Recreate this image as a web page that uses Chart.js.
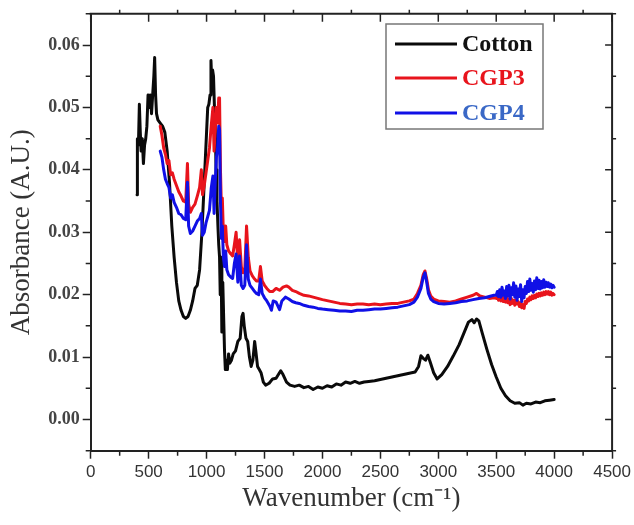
<!DOCTYPE html>
<html>
<head>
<meta charset="utf-8">
<script src="https://cdn.jsdelivr.net/npm/chart.js@4"></script>
<style>
html, body { margin: 0; padding: 0; background: #fff; }
</style>
</head>
<body>
<canvas id="ftirChart" width="634" height="525"></canvas>
<script>
// tick labels
const xTicks = [0, 500, 1000, 1500, 2000, 2500, 3000, 3500, 4000, 4500];
const yTicks = [0, 0.01, 0.02, 0.03, 0.04, 0.05, 0.06];

const seriesNames = ['Cotton', 'CGP3', 'CGP4'];

// Cotton (black)
const cottonX = [400, 403, 412, 420, 428, 435, 445, 455, 465, 475, 485, 495, 505, 515, 525, 535, 545, 552, 560, 568, 580,
  600, 620, 640, 660, 680, 700, 720, 740, 760, 780, 800, 820, 840, 860, 880, 900, 920, 940, 960, 980,
  1000, 1010, 1020, 1030, 1038, 1045, 1052, 1060, 1068, 1075, 1082, 1090, 1098, 1105, 1112, 1118, 1125, 1132, 1140, 1148,
  1155, 1162, 1170, 1180, 1190, 1200, 1215, 1230, 1250, 1270, 1290, 1305, 1315, 1325, 1340, 1355, 1370, 1385, 1400,
  1415, 1425, 1440, 1455, 1470, 1490, 1510, 1540, 1570, 1600, 1620, 1640, 1660, 1690, 1720, 1760, 1800, 1840, 1880,
  1920, 1960, 2000, 2040, 2080, 2120, 2160, 2200, 2240, 2280, 2320, 2360, 2400, 2450, 2500, 2550, 2600, 2650, 2700,
  2750, 2800, 2830, 2850, 2870, 2890, 2910, 2930, 2960, 2990, 3030, 3080, 3130, 3180, 3220, 3260, 3290, 3310, 3330,
  3350, 3380, 3420, 3460, 3500, 3540, 3580, 3620, 3660, 3700, 3730, 3760, 3800, 3840, 3880, 3920, 3960, 4000];
const cottonY = [0.036, 0.045, 0.044, 0.0505, 0.046, 0.043, 0.045, 0.041, 0.044, 0.045, 0.047, 0.052, 0.050, 0.052, 0.049, 0.052, 0.055, 0.058, 0.052, 0.049, 0.048,
  0.0475, 0.047, 0.046, 0.043, 0.038, 0.031, 0.026, 0.022, 0.019, 0.0175, 0.0165, 0.0162, 0.0165, 0.0175, 0.019, 0.021, 0.0215, 0.024, 0.030, 0.038,
  0.046, 0.050, 0.0505, 0.052, 0.0575, 0.054, 0.056, 0.055, 0.050, 0.047, 0.040, 0.035, 0.031, 0.028, 0.026, 0.020, 0.026, 0.014, 0.022, 0.016,
  0.011, 0.008, 0.0095, 0.008, 0.0105, 0.009, 0.0095, 0.0105, 0.011, 0.0125, 0.013, 0.0165, 0.017, 0.015, 0.013, 0.0125, 0.010, 0.0085, 0.0095,
  0.0125, 0.011, 0.0085, 0.008, 0.0075, 0.006, 0.0055, 0.0058, 0.0065, 0.0066, 0.0072, 0.0078, 0.0072, 0.006, 0.0055, 0.0053, 0.0055, 0.0051, 0.0053,
  0.0048, 0.0052, 0.0050, 0.0054, 0.0052, 0.0057, 0.0055, 0.0060, 0.0058, 0.0061, 0.0058, 0.0060, 0.0061, 0.0062, 0.0064, 0.0066, 0.0068, 0.0070, 0.0072,
  0.0074, 0.0076, 0.0085, 0.0102, 0.0098, 0.0095, 0.0103, 0.0092, 0.0075, 0.0065, 0.0072, 0.0085, 0.0102, 0.012, 0.0138, 0.0156, 0.0160, 0.0155, 0.0161,
  0.0158, 0.0138, 0.0112, 0.0088, 0.0068, 0.0050, 0.0038, 0.0030, 0.0026, 0.0027, 0.0023, 0.0026, 0.0025, 0.0028, 0.0027, 0.0030, 0.0031, 0.0032];

// CGP3 (red)
const cgp3X = [600, 615, 630, 645, 660, 675, 690, 705, 720, 740, 760, 780, 800, 820, 835, 845, 860, 880, 900, 920, 940, 955, 965, 980, 995,
  1010, 1025, 1040, 1055, 1065, 1075, 1085, 1095, 1105, 1112, 1120, 1128, 1136, 1145, 1155, 1165, 1175, 1190, 1210, 1225, 1240, 1255,
  1270, 1285, 1300, 1315, 1330, 1345, 1360, 1375, 1395, 1415, 1430, 1450, 1465, 1480, 1500, 1520, 1545, 1570, 1600, 1630, 1660, 1690,
  1710, 1740, 1770, 1800, 1840, 1880, 1920, 1960, 2000, 2050, 2100, 2150, 2200, 2250, 2300, 2350, 2400, 2450, 2500, 2550, 2600, 2650,
  2700, 2750, 2790, 2820, 2850, 2870, 2885, 2900, 2915, 2935, 2960, 3000, 3050, 3100, 3150, 3200, 3250, 3300, 3330, 3360, 3400, 3440,
  3480, 3500, 3510, 3520, 3530, 3540, 3550, 3560, 3570, 3580, 3590, 3600, 3610, 3620, 3630, 3640, 3650, 3660, 3670, 3680, 3690,
  3700, 3710, 3720, 3730, 3740, 3750, 3760, 3770, 3780, 3790, 3800, 3810, 3820, 3830, 3840, 3850, 3860, 3870, 3880, 3890,
  3900, 3910, 3920, 3930, 3940, 3950, 3960, 3970, 3980, 3990, 4000];
const cgp3Y = [0.047, 0.0455, 0.0435, 0.0425, 0.041, 0.0415, 0.0392, 0.0395, 0.0385, 0.0375, 0.0365, 0.0358, 0.035, 0.0348, 0.041, 0.0345, 0.0332, 0.034, 0.0345, 0.0358, 0.0372, 0.040, 0.036, 0.0375, 0.0395,
  0.0415, 0.0435, 0.047, 0.050, 0.043, 0.0465, 0.050, 0.0475, 0.0515, 0.0515, 0.040, 0.034, 0.0355, 0.030, 0.0285, 0.031, 0.028, 0.027, 0.0265, 0.0262, 0.028, 0.030,
  0.025, 0.0288, 0.0245, 0.0235, 0.024, 0.031, 0.026, 0.0238, 0.023, 0.0225, 0.0222, 0.0222, 0.0245, 0.0222, 0.0215, 0.021, 0.0205, 0.0205, 0.021, 0.0207, 0.0212, 0.0214,
  0.0212, 0.0207, 0.0205, 0.0202, 0.0199, 0.0198, 0.0196, 0.0194, 0.0192, 0.019, 0.0188, 0.0186, 0.0185, 0.0184, 0.0185, 0.0185, 0.0184, 0.0185, 0.0184, 0.0185, 0.0186, 0.0186,
  0.0188, 0.019, 0.0193, 0.0202, 0.0215, 0.0232, 0.0238, 0.0225, 0.0208, 0.0198, 0.0193, 0.019, 0.0189, 0.0188, 0.019, 0.0193, 0.0196, 0.0199, 0.0202, 0.0198, 0.0196, 0.0194,
  0.0195, 0.0194, 0.0197, 0.0191, 0.0196, 0.0190, 0.0197, 0.0189, 0.0195, 0.0188, 0.0196, 0.0187, 0.0193, 0.0184, 0.0194, 0.0186, 0.0191, 0.0183, 0.0192, 0.0185, 0.0189,
  0.0181, 0.0187, 0.0179, 0.0184, 0.0178, 0.0189, 0.0186, 0.0193, 0.0190, 0.0196, 0.0192, 0.0198, 0.0194, 0.0199, 0.0195, 0.0201, 0.0197, 0.0202, 0.0198, 0.0203,
  0.0199, 0.0204, 0.0200, 0.0205, 0.0201, 0.0205, 0.0200, 0.0204, 0.0199, 0.0202, 0.0200];

// CGP4 (blue)
const cgp4X = [600, 615, 630, 645, 660, 675, 690, 705, 720, 740, 760, 780, 800, 820, 835, 845, 860, 880, 900, 920, 940, 955, 965, 980, 995,
  1010, 1025, 1040, 1055, 1065, 1075, 1085, 1095, 1105, 1112, 1120, 1128, 1136, 1145, 1155, 1165, 1175, 1190, 1210, 1225, 1240, 1255,
  1270, 1285, 1300, 1315, 1330, 1345, 1360, 1375, 1395, 1415, 1430, 1450, 1465, 1480, 1500, 1520, 1545, 1560, 1575, 1600, 1630, 1650,
  1680, 1710, 1740, 1770, 1800, 1840, 1880, 1920, 1960, 2000, 2050, 2100, 2150, 2200, 2250, 2300, 2350, 2400, 2450, 2500, 2550, 2600,
  2650, 2700, 2750, 2790, 2820, 2850, 2870, 2885, 2900, 2915, 2935, 2960, 3000, 3050, 3100, 3150, 3200, 3250, 3300, 3350, 3400, 3440,
  3480, 3500, 3510, 3520, 3530, 3540, 3550, 3560, 3570, 3580, 3590, 3600, 3610, 3620, 3630, 3640, 3650, 3660, 3670, 3680, 3690,
  3700, 3710, 3720, 3730, 3740, 3750, 3760, 3770, 3780, 3790, 3800, 3810, 3820, 3830, 3840, 3850, 3860, 3870, 3880, 3890,
  3900, 3910, 3920, 3930, 3940, 3950, 3960, 3970, 3980, 3990, 4000];
const cgp4Y = [0.043, 0.042, 0.040, 0.0385, 0.0378, 0.0372, 0.0355, 0.036, 0.0348, 0.034, 0.033, 0.0328, 0.0322, 0.032, 0.038, 0.031, 0.0298, 0.0302, 0.031, 0.0318, 0.0322, 0.033, 0.0295, 0.030, 0.0315,
  0.0325, 0.0335, 0.037, 0.039, 0.033, 0.038, 0.042, 0.0435, 0.047, 0.0465, 0.035, 0.029, 0.031, 0.026, 0.0245, 0.027, 0.024, 0.0232, 0.0228, 0.0226, 0.025, 0.0265,
  0.022, 0.0262, 0.0215, 0.021, 0.0215, 0.028, 0.0225, 0.0215, 0.021, 0.0205, 0.0202, 0.020, 0.0225, 0.0202, 0.0195, 0.019, 0.0182, 0.0175, 0.019, 0.0188, 0.0176, 0.019,
  0.0196, 0.0193, 0.0189, 0.0187, 0.0186, 0.0183, 0.0181, 0.018, 0.0178, 0.0177, 0.0176, 0.0175, 0.0174, 0.0174, 0.0173, 0.0175, 0.0175, 0.0176, 0.0177, 0.0177, 0.0178, 0.0179,
  0.018, 0.0182, 0.0184, 0.0188, 0.0196, 0.021, 0.0228, 0.0235, 0.022, 0.0202, 0.0193, 0.0189, 0.0186, 0.0185, 0.0186, 0.0187, 0.0189, 0.019, 0.0192, 0.0194, 0.0195, 0.0197,
  0.0199, 0.0199, 0.0205, 0.0197, 0.0208, 0.0196, 0.0212, 0.0199, 0.0206, 0.0194, 0.0213, 0.0198, 0.0215, 0.0193, 0.0211, 0.0200, 0.0219, 0.0196, 0.0214, 0.0191, 0.0209,
  0.0197, 0.0216, 0.0189, 0.0208, 0.0195, 0.0213, 0.0202, 0.0221, 0.0205, 0.0225, 0.0207, 0.0218, 0.0204, 0.0222, 0.0208, 0.0227, 0.0210, 0.0223, 0.0209, 0.0221,
  0.0211, 0.0224, 0.0212, 0.0220, 0.0213, 0.0219, 0.0212, 0.0217, 0.0211, 0.0215, 0.0212];

const toPoints = (xs, ys) => xs.map((x, i) => ({ x: x, y: ys[i] }));

// box frame: top/right border plus minor and mirrored ticks
const frameTicks = {
  id: 'frameTicks',
  afterDraw(chart) {
    const { ctx, chartArea: a, scales: { x, y } } = chart;
    ctx.save();
    ctx.strokeStyle = '#222';
    ctx.lineWidth = 2;
    ctx.beginPath();
    ctx.moveTo(a.left - 1, a.top);
    ctx.lineTo(a.right, a.top);
    ctx.lineTo(a.right, a.bottom + 1);
    ctx.stroke();

    ctx.lineWidth = 1.5;
    ctx.beginPath();
    xTicks.forEach((v, i) => {
      const px = x.getPixelForValue(v);
      // top major ticks pointing in
      ctx.moveTo(px, a.top); ctx.lineTo(px, a.top + 8);
      if (i < xTicks.length - 1) {
        const mx = x.getPixelForValue((v + xTicks[i + 1]) / 2);
        ctx.moveTo(mx, a.bottom); ctx.lineTo(mx, a.bottom + 5);
        ctx.moveTo(mx, a.top); ctx.lineTo(mx, a.top - 4);
      }
    });
    const yAll = [-0.01].concat(yTicks, [0.07]);
    yAll.forEach((v, i) => {
      const py = y.getPixelForValue(v);
      if (py >= a.top && py <= a.bottom) {
        ctx.moveTo(a.right, py); ctx.lineTo(a.right - 7, py);
      }
      if (i < yAll.length - 1) {
        const my = y.getPixelForValue((v + yAll[i + 1]) / 2);
        if (my >= a.top - 1 && my <= a.bottom + 1) {
          ctx.moveTo(a.left, my); ctx.lineTo(a.left - 5, my);
          ctx.moveTo(a.right, my); ctx.lineTo(a.right + 4, my);
        }
      }
    });
    ctx.stroke();
    ctx.restore();
  }
};

// legend box inside the plot
const boxLegend = {
  id: 'boxLegend',
  afterDatasetsDraw(chart) {
    const ctx = chart.ctx;
    const bx = 386, by = 24, bw = 157, bh = 105;
    ctx.save();
    ctx.fillStyle = '#fff';
    ctx.fillRect(bx, by, bw, bh);
    ctx.strokeStyle = '#777';
    ctx.lineWidth = 1.5;
    ctx.strokeRect(bx, by, bw, bh);
    const rowsY = [44, 78, 113];
    chart.data.datasets.forEach((ds, i) => {
      const ry = rowsY[i];
      ctx.strokeStyle = ds.borderColor;
      ctx.lineWidth = 3;
      ctx.beginPath();
      ctx.moveTo(395, ry);
      ctx.lineTo(457, ry);
      ctx.stroke();
      ctx.fillStyle = ds.labelColor;
      ctx.font = 'bold 24px "Liberation Serif"';
      ctx.textBaseline = 'middle';
      ctx.textAlign = 'left';
      ctx.fillText(ds.label, 462, ry + 1);
    });
    ctx.restore();
  }
};

new Chart(document.getElementById('ftirChart').getContext('2d'), {
  type: 'line',
  data: {
    datasets: [
      { label: seriesNames[0], data: toPoints(cottonX, cottonY), borderColor: '#0a0a0a', labelColor: '#111', borderWidth: 3, order: 3 },
      { label: seriesNames[1], data: toPoints(cgp3X, cgp3Y), borderColor: '#e8141c', labelColor: '#e8141c', borderWidth: 3, order: 2 },
      { label: seriesNames[2], data: toPoints(cgp4X, cgp4Y), borderColor: '#1010e6', labelColor: '#3a68c6', borderWidth: 3, order: 1 }
    ]
  },
  options: {
    responsive: false,
    animation: false,
    devicePixelRatio: 1,
    layout: { padding: { left: 0, right: 20.7, top: 12.3, bottom: 0 } },
    elements: {
      point: { radius: 0 },
      line: { tension: 0, fill: false, borderJoinStyle: 'round', borderCapStyle: 'round' }
    },
    plugins: {
      legend: { display: false },
      tooltip: { enabled: false }
    },
    scales: {
      x: {
        type: 'linear',
        min: 0,
        max: 4500,
        afterBuildTicks: s => { s.ticks = xTicks.map(v => ({ value: v })); },
        afterFit: s => { s.height = 74.3; },
        ticks: {
          callback: v => String(v),
          maxRotation: 0,
          autoSkip: false,
          padding: 3,
          color: '#333',
          font: { family: '"Liberation Sans", Arial, sans-serif', size: 17 }
        },
        grid: { drawOnChartArea: false, tickLength: 8, tickWidth: 1.5, tickColor: '#222' },
        border: { color: '#222', width: 2 },
        title: {
          display: true,
          text: 'Wavenumber (cm⁻¹)',
          color: '#333',
          font: { family: '"Liberation Serif", serif', size: 27 },
          padding: { top: 0, bottom: 10 }
        }
      },
      y: {
        type: 'linear',
        min: -0.005,
        max: 0.065,
        afterBuildTicks: s => { s.ticks = yTicks.map(v => ({ value: v })); },
        afterFit: s => { s.width = 90.7; },
        ticks: {
          callback: v => v.toFixed(2),
          autoSkip: false,
          padding: 3,
          color: '#444',
          font: { family: '"Liberation Serif", serif', size: 18, weight: 'bold' }
        },
        grid: { drawOnChartArea: false, tickLength: 8, tickWidth: 1.5, tickColor: '#222' },
        border: { color: '#222', width: 2 },
        title: {
          display: true,
          text: 'Absorbance (A.U.)',
          color: '#333',
          font: { family: '"Liberation Serif", serif', size: 27 },
          padding: { top: 6, bottom: 0 }
        }
      }
    }
  },
  plugins: [frameTicks, boxLegend]
});
</script>
</body>
</html>
